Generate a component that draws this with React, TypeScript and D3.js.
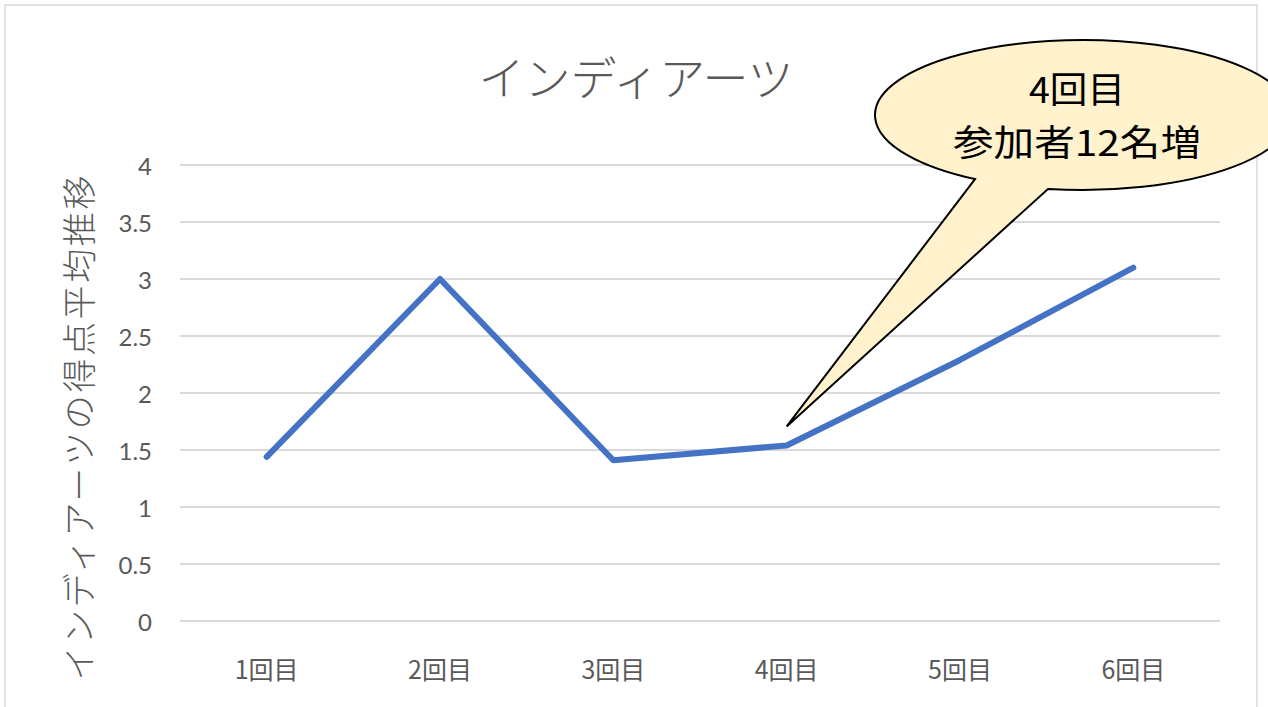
import React from "react";
import * as d3 from "d3";

const categories = ["1回目", "2回目", "3回目", "4回目", "5回目", "6回目"];
const scores = [1.44, 3.0, 1.41, 1.54, 2.29, 3.1];
const yTicks = [0, 0.5, 1, 1.5, 2, 2.5, 3, 3.5, 4];
const title = "インディアーツ";
const yAxisTitle = "インディアーツの得点平均推移";
const calloutLines = ["4回目", "参加者12名増"];

const W = 1268;
const H = 707;
const TEXT = "#595959";
const GRID = "#d9d9d9";
const LINE = "#4472c4";
const JP = "'Noto Sans CJK JP', 'Noto Sans', sans-serif";
const NUM = "Lato, 'Noto Sans', sans-serif";

export default function App() {
  const x = d3.scaleBand<string>().domain(categories).range([180, 1220]);
  const y = d3.scaleLinear().domain([0, 4]).range([621, 165]);
  const cx = (c: string) => (x(c) ?? 0) + x.bandwidth() / 2;
  const line = d3
    .line<number>()
    .x((_, i) => cx(categories[i]))
    .y((d) => y(d));

  // callout geometry (annotation layout)
  const eCx = 1083, eCy = 115, eRx = 208, eRy = 75;
  const tipX = cx(categories[3]);
  const tipY = y(scores[3]) - 19;
  const b1x = 975, b2x = 1048;
  const ey = (px: number) => eCy + eRy * Math.sqrt(1 - ((px - eCx) / eRx) ** 2);
  const calloutPath = `M${b1x},${ey(b1x)} A${eRx},${eRy} 0 1,1 ${b2x},${ey(b2x)} L${tipX},${tipY} Z`;
  const calloutWidths = [96, 248];

  return (
    <svg
      width={W}
      height={H}
      style={{ position: "fixed", left: 0, top: 0, background: "#fff" }}
    >
      <rect x={0} y={0} width={W} height={H} fill="#fff" />
      <rect x={5} y={5} width={1252} height={740} fill="#fff" stroke={GRID} strokeWidth={1.5} />
      <text
        x={636}
        y={75}
        textAnchor="middle"
        dominantBaseline="central"
        fontFamily={JP}
        fontWeight={300}
        fontSize={46}
        fill={TEXT}
      >
        {title}
      </text>
      {yTicks.map((t) => (
        <g key={t}>
          <line x1={180} x2={1220} y1={y(t)} y2={y(t)} stroke={GRID} strokeWidth={2} />
          <text
            x={152}
            y={y(t)}
            textAnchor="end"
            dominantBaseline="central"
            fontFamily={NUM}
            fontSize={24}
            fill={TEXT}
          >
            {t}
          </text>
        </g>
      ))}
      {categories.map((c) => (
        <text
          key={c}
          x={cx(c)}
          y={668}
          textAnchor="middle"
          dominantBaseline="central"
          fontFamily={JP}
          fontSize={25}
          fill={TEXT}
        >
          {c}
        </text>
      ))}
      <text
        transform={`translate(77,428) rotate(-90)`}
        textAnchor="middle"
        dominantBaseline="central"
        fontFamily={JP}
        fontWeight={300}
        fontSize={34}
        textLength={505}
        lengthAdjust="spacing"
        fill={TEXT}
      >
        {yAxisTitle}
      </text>
      <path
        d={line(scores) ?? ""}
        fill="none"
        stroke={LINE}
        strokeWidth={6}
        strokeLinecap="round"
        strokeLinejoin="round"
      />
      <path d={calloutPath} fill="#fff2cc" stroke="#000" strokeWidth={2} strokeLinejoin="miter" />
      {calloutLines.map((s, i) => (
        <text
          key={s}
          x={1077}
          y={87 + i * 53}
          textAnchor="middle"
          dominantBaseline="central"
          fontFamily={JP}
          fontSize={36}
          textLength={calloutWidths[i]}
          lengthAdjust="spacingAndGlyphs"
          fill="#000"
        >
          {s}
        </text>
      ))}
    </svg>
  );
}
